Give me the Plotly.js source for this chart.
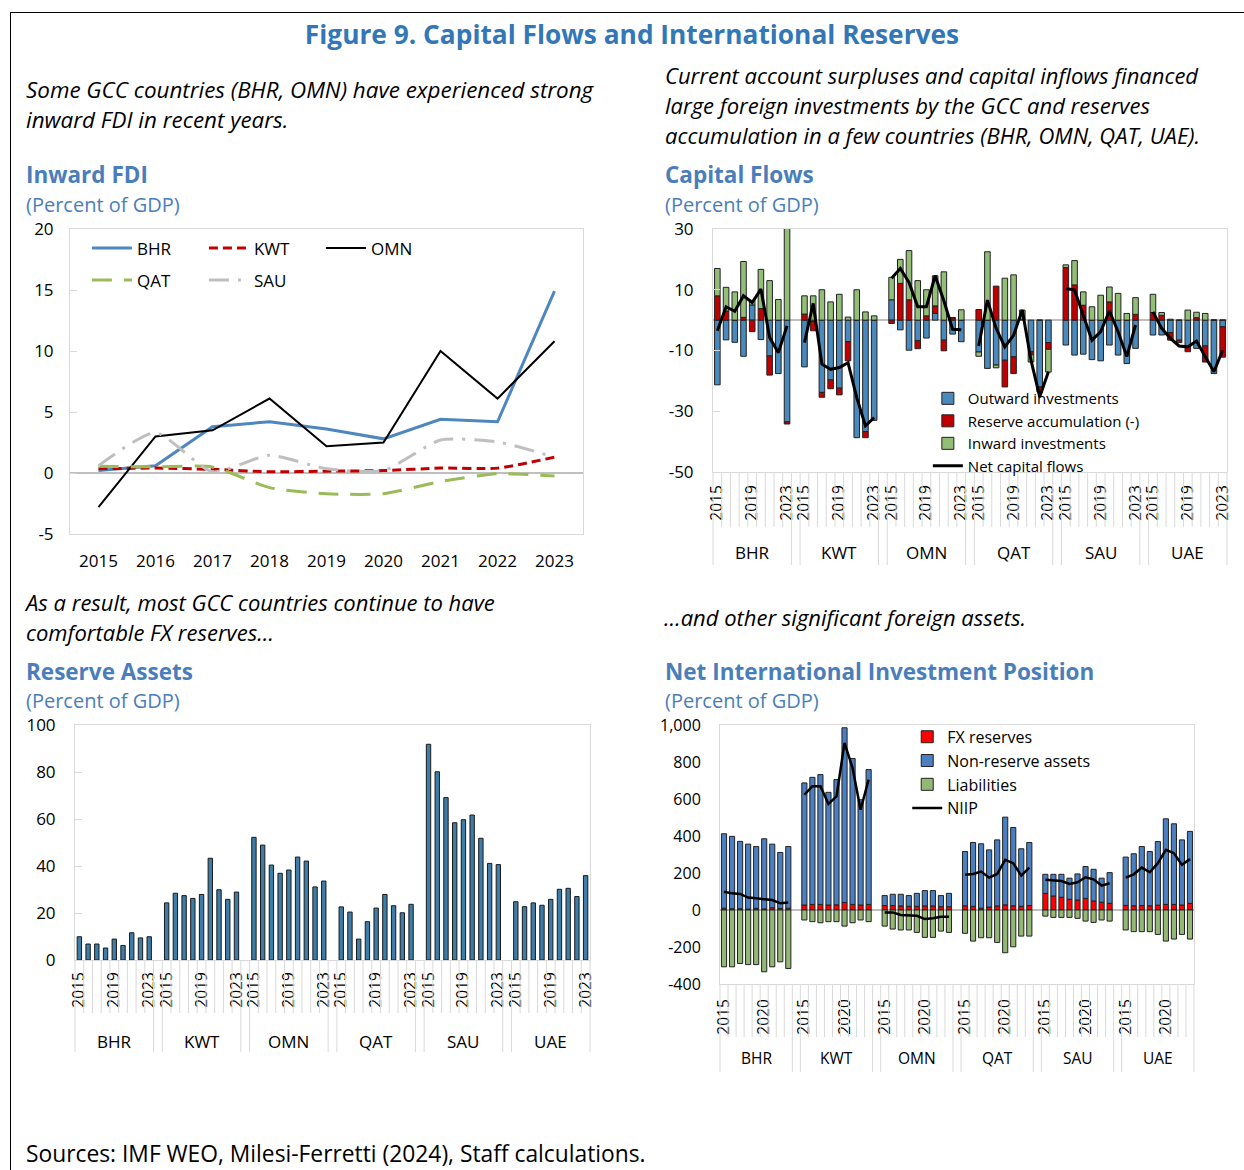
<!DOCTYPE html>
<html><head><meta charset="utf-8">
<script src="https://cdn.plot.ly/plotly-3.0.1.min.js"></script>
<style>
body{margin:0;background:#fff;width:1244px;height:1170px;overflow:hidden;position:relative;font-family:"Open Sans",sans-serif;}
.t{position:absolute;white-space:nowrap;}
.cap{font-style:italic;font-size:22px;line-height:30px;color:#000;}
.pt{font-weight:700;font-size:22.5px;color:#4A7EBB;line-height:30px;}
.ps{font-size:20px;color:#4A7EBB;line-height:30px;}
.chart{position:absolute;}
#frame{position:absolute;left:10px;top:12px;width:1240px;height:1170px;border-left:1px solid #000;border-top:1px solid #000;}
#title{position:absolute;left:0;width:1264px;top:17px;line-height:34px;text-align:center;font-weight:700;font-size:26.3px;color:#3277B8;}
</style></head><body>
<div id="frame"></div>
<div id="title">Figure 9. Capital Flows and International Reserves</div>
<div class="t cap" style="left:26px;top:75px;font-size:22.4px;">Some GCC countries (BHR, OMN) have experienced strong<br>inward FDI in recent years.</div>
<div class="t cap" style="left:665px;top:60px;">Current account surpluses and capital inflows financed<br>large foreign investments by the GCC and reserves<br>accumulation in a few countries (BHR, OMN, QAT, UAE).</div>
<div class="t pt" style="left:26px;top:160px;">Inward FDI</div>
<div class="t ps" style="left:26px;top:190px;">(Percent of GDP)</div>
<div class="t pt" style="left:665px;top:160px;">Capital Flows</div>
<div class="t ps" style="left:665px;top:190px;">(Percent of GDP)</div>
<div class="t cap" style="left:26px;top:587px;">As a result, most GCC countries continue to have<br>comfortable FX reserves…</div>
<div class="t cap" style="left:664px;top:602px;">…and other significant foreign assets.</div>
<div class="t pt" style="left:26px;top:657px;">Reserve Assets</div>
<div class="t ps" style="left:26px;top:686px;">(Percent of GDP)</div>
<div class="t pt" style="left:665px;top:657px;">Net International Investment Position</div>
<div class="t ps" style="left:665px;top:686px;">(Percent of GDP)</div>
<div class="t" style="left:26px;top:1140px;font-size:22.8px;line-height:28px;color:#000;">Sources: IMF WEO, Milesi-Ferretti (2024), Staff calculations.</div>

<div id="fdi" class="chart" style="left:0px;top:200px;width:600px;height:390px;"></div>
<div id="cf" class="chart" style="left:640px;top:200px;width:604px;height:380px;"></div>
<div id="ra" class="chart" style="left:0px;top:700px;width:600px;height:370px;"></div>
<div id="niip" class="chart" style="left:640px;top:700px;width:604px;height:380px;"></div>

<script>
// ---------------- DATA ----------------
const countries = ["BHR","KWT","OMN","QAT","SAU","UAE"];
const years = ["2015","2016","2017","2018","2019","2020","2021","2022","2023"];

// Inward FDI (percent of GDP)
const fdiBHR = [0.2, 0.6, 3.8, 4.2, 3.6, 2.8, 4.4, 4.2, 14.9];
const fdiKWT = [0.35, 0.4, 0.3, 0.1, 0.15, 0.2, 0.4, 0.4, 1.3];
const fdiOMN = [-2.8, 3.0, 3.5, 6.1, 2.2, 2.5, 10.0, 6.1, 10.8];
const fdiQAT = [0.55, 0.5, 0.5, -1.2, -1.7, -1.7, -0.7, -0.05, -0.25];
const fdiSAU = [0.6, 3.3, 0.1, 1.45, 0.35, 0.2, 2.7, 2.55, 1.3];
const fdiTickVals = [-5, 0, 5, 10, 15, 20];
const fdiTickText = ["-5", "0", "5", "10", "15", "20"];

// Capital flows (percent of GDP), one row per country (BHR..UAE)
const cfOutward = [
  [-21.3, -6.5, -7.3, -11.9, 5.0, -6.4, -11.8, -17.6, -33.5],
  [-15.4, -0.5, -23.8, -19.7, -22.4, -7.1, -38.7, -36.7, -33.0],
  [6.7, -3.2, -9.9, -6.8, -5.9, 2.2, -6.6, -4.6, -7.1],
  [-10.5, -15.9, -14.8, -13.2, -12.1, 0.3, -10.4, -22.0, -7.4],
  [-8.2, -11.5, -11.2, -13.0, -13.4, -8.2, -11.5, -14.3, -9.3],
  [-4.9, -4.9, -4.1, -6.6, -8.8, -9.3, -8.5, -17.6, -2.2]
];
const cfReserve = [
  [8.0, 3.0, 0, 0.9, -3.8, 3.8, -6.3, 0, -0.7],
  [2.0, -3.0, -1.6, -2.9, -2.2, -6.3, 0, -2.0, 0],
  [-1.1, 12.1, 6.7, -2.6, 1.4, 2.5, -3.5, 0.8, 0],
  [3.5, 0, 11.2, -8.8, -5.5, 0, -1.0, -1.6, -2.2],
  [17.3, 11.6, 4.9, 0, 0, 6.0, 0, 0, 1.9],
  [2.5, 1.6, -2.5, -0.8, -1.6, 0.8, -5.3, 0, -10.0]
];
const cfInward = [
  [9.0, 7.8, 9.3, 18.4, 1.5, 12.9, 13.0, 6.8, 32.3],
  [6.0, 8.0, 10.0, 6.0, 8.5, 1.0, 10.0, 2.7, 1.4],
  [7.4, 7.9, 16.2, 13.0, 8.6, 9.9, 15.9, 0, 3.4],
  [-1.4, 22.5, -0.9, 13.8, 14.9, 3.0, -2.4, 0, -7.5],
  [0.9, 8.0, 4.4, 4.4, 8.2, 4.9, 8.8, 2.2, 5.5],
  [6.0, 0.9, 0.3, 0, 3.3, 1.8, 2.2, 0, 0]
];
const cfNet = [
  [-3.5, 4.4, 2.9, 8.0, 5.8, 10.2, -5.7, -10.7, -1.9],
  [-7.4, 5.5, -14.5, -16.2, -15.6, -14.0, -25.5, -34.8, -32.1],
  [13.8, 17.0, 12.4, 4.4, 4.4, 14.6, 6.4, -3.0, -3.2],
  [-8.5, 6.6, -2.7, -8.8, -5.0, 3.3, -13.2, -25.3, -17.0],
  [10.4, 9.9, 1.6, -6.6, -3.8, 3.0, -3.8, -12.0, -1.6],
  [2.7, -2.7, -6.0, -8.5, -8.8, -6.9, -12.0, -17.0, -9.9]
];
const cfTickVals = [-50, -30, -10, 10, 30];
const cfTickText = ["-50", "-30", "-10", "10", "30"];

// Reserve assets (percent of GDP)
const reserveAssets = [
  [9.9, 6.8, 6.8, 5.1, 8.9, 6.2, 11.6, 9.4, 9.9],
  [24.3, 28.4, 27.4, 26.2, 27.9, 43.3, 29.9, 25.8, 28.9],
  [52.2, 48.9, 40.4, 36.9, 38.3, 43.8, 42.1, 31.1, 33.6],
  [22.6, 20.4, 8.9, 16.3, 22.1, 27.9, 23.1, 20.1, 23.7],
  [91.8, 80.1, 69.1, 58.4, 59.7, 61.7, 51.8, 41.1, 40.6],
  [24.8, 22.7, 24.3, 23.3, 25.8, 30.1, 30.5, 27.0, 35.9]
];
const raTickVals = [0, 20, 40, 60, 80, 100];
const raTickText = ["0", "20", "40", "60", "80", "100"];

// NIIP (percent of GDP)
const niipFX = [
  [10, 7, 7, 5, 9, 6, 12, 9, 10],
  [27, 30, 30, 27, 28, 41, 30, 27, 30],
  [24, 24, 22, 20, 20, 22, 22, 18, 18],
  [23, 20, 10, 16, 22, 28, 23, 20, 24],
  [90, 76, 69, 58, 54, 63, 49, 42, 36],
  [25, 23, 24, 23, 26, 30, 30, 27, 36]
];
const niipNonReserve = [
  [402, 391, 364, 351, 334, 379, 344, 302, 333],
  [660, 687, 702, 609, 677, 944, 789, 569, 729],
  [54, 61, 63, 58, 70, 83, 83, 60, 72],
  [293, 345, 348, 309, 357, 474, 423, 311, 341],
  [103, 117, 124, 114, 141, 172, 171, 130, 166],
  [261, 281, 319, 293, 344, 463, 436, 352, 389]
];
const niipLiabilities = [
  [-307, -307, -289, -295, -295, -334, -307, -280, -316],
  [-54, -63, -69, -63, -63, -87, -69, -54, -63],
  [-87, -103, -108, -108, -121, -148, -148, -114, -121],
  [-126, -168, -150, -150, -175, -231, -199, -141, -141],
  [-33, -40, -40, -40, -45, -60, -67, -54, -60],
  [-108, -117, -117, -117, -132, -168, -157, -132, -157]
];
const niipNet = [
  [99, 90, 87, 67, 63, 60, 54, 36, 40],
  [623, 669, 669, 573, 614, 903, 768, 542, 705],
  [-13, -13, -27, -31, -31, -49, -45, -36, -36],
  [190, 195, 208, 175, 195, 271, 253, 186, 229],
  [163, 159, 157, 141, 150, 177, 166, 132, 145],
  [175, 193, 229, 204, 253, 325, 307, 244, 275]
];
const niipTickVals = [-400, -200, 0, 200, 400, 600, 800, 1000];
const niipTickText = ["-400", "-200", "0", "200", "400", "600", "800", "1,000"];

// ---------------- HELPERS ----------------
const FONT = "Open Sans, sans-serif";
const FRAME = "#D9D9D9";
const SLOT = 10; // 9 years + one empty slot between countries

function flatX() {
  const xs = [];
  countries.forEach((c, g) => years.forEach((y, i) => xs.push(g * SLOT + i)));
  return xs;
}
function flatY(rows) { return [].concat(...rows); }
function lineXY(rows) {
  const xs = [], ys = [];
  rows.forEach((r, g) => {
    r.forEach((v, i) => { xs.push(g * SLOT + i); ys.push(v); });
    xs.push(g * SLOT + years.length); ys.push(null);
  });
  return {x: xs, y: ys};
}
function yearTicks(idx) {
  const v = [], t = [];
  countries.forEach((c, g) => idx.forEach(i => { v.push(g * SLOT + i); t.push(years[i]); }));
  return {v, t};
}
function catShapes(shortEnd, longEnd) {
  const s = [];
  const last = countries.length * SLOT - 1.5;
  countries.forEach((c, g) => {
    for (let k = 0; k <= years.length; k++) {
      const x = g * SLOT - 0.5 + k;
      const isLong = (k === 0 || k === years.length);
      let sh = {type: 'line', xref: 'x', yref: 'paper', x0: x, x1: x, y0: 0, y1: isLong ? longEnd : shortEnd,
                line: {color: FRAME, width: 1}};
      if (g === 0 && k === 0) { sh.xref = 'paper'; sh.x0 = 0; sh.x1 = 0; }
      if (x === last) { sh.xref = 'paper'; sh.x0 = 1; sh.x1 = 1; }
      s.push(sh);
    }
  });
  return s;
}
function countryAnn(yPaper, size) {
  return countries.map((c, g) => ({
    text: c, xref: 'x', yref: 'paper', x: g * SLOT + 4, y: yPaper, yanchor: 'middle', xanchor: 'center',
    showarrow: false, font: {family: FONT, size: size, color: '#000'}
  }));
}
const cfg = {displayModeBar: false, staticPlot: true};
const catRange = [-0.5, countries.length * SLOT - 1.5];

// ---------------- FDI ----------------
(function () {
  const mk = (y, name, color, width, dash, legend, shape) => ({
    type: 'scatter', mode: 'lines', x: years, y: y, name: name, legend: legend,
    line: {color: color, width: width, dash: dash, shape: shape || 'linear', smoothing: 0.6}
  });
  const data = [
    mk(fdiBHR, 'BHR', '#4E86BE', 3, 'solid', 'legend'),
    mk(fdiKWT, 'KWT', '#C00000', 3, '9px,5px', 'legend', 'spline'),
    mk(fdiOMN, 'OMN', '#000000', 2, 'solid', 'legend'),
    mk(fdiQAT, 'QAT', '#9BBB59', 3, '20px,12px', 'legend2', 'spline'),
    mk(fdiSAU, 'SAU', '#BFBFBF', 3, '20px,9px,3px,9px', 'legend2', 'spline')
  ];
  const legendBase = {orientation: 'h', x: 0.033, xanchor: 'left', yanchor: 'top', entrywidth: 62, itemwidth: 40,
    bgcolor: 'rgba(0,0,0,0)', font: {family: FONT, size: 17, color: '#000'}};
  const layout = {
    width: 600, height: 390, margin: {l: 70, r: 17, t: 29, b: 56},
    paper_bgcolor: 'rgba(0,0,0,0)', plot_bgcolor: '#fff',
    font: {family: FONT, size: 17, color: '#000'}, showlegend: true,
    legend: Object.assign({}, legendBase, {y: 0.995}),
    legend2: Object.assign({}, legendBase, {y: 0.89}),
    xaxis: {type: 'category', range: [-0.5, 8.5], showline: true, mirror: true, linecolor: FRAME,
      showgrid: false, zeroline: false, ticks: '', ticklabelstandoff: 12, tickfont: {size: 17}},
    yaxis: {range: [-5, 20], tickvals: fdiTickVals, ticktext: fdiTickText, showline: true, mirror: true,
      linecolor: FRAME, showgrid: false, zeroline: true, zerolinecolor: '#BFBFBF', zerolinewidth: 1.5,
      ticks: 'inside', ticklen: 7, tickcolor: FRAME, ticklabelstandoff: 12, tickfont: {size: 17}}
  };
  Plotly.newPlot('fdi', data, layout, cfg);
})();

// ---------------- CAPITAL FLOWS ----------------
(function () {
  const xs = flatX();
  const net = lineXY(cfNet);
  const bar = (rows, name, color) => ({type: 'bar', x: xs, y: flatY(rows), name: name,
    marker: {color: color, line: {color: '#222', width: 1}}});
  const data = [
    bar(cfOutward, 'Outward investments', '#4A89BC'),
    bar(cfReserve, 'Reserve accumulation (-)', '#C00000'),
    bar(cfInward, 'Inward investments', '#93BE78'),
    {type: 'scatter', mode: 'lines', x: net.x, y: net.y, name: 'Net capital flows', connectgaps: false,
      line: {color: '#000', width: 3}}
  ];
  const yt = yearTicks([0, 4, 8]);
  const layout = {
    width: 604, height: 380, margin: {l: 73, r: 17, t: 29, b: 108},
    paper_bgcolor: 'rgba(0,0,0,0)', plot_bgcolor: '#fff', barmode: 'relative', bargap: 0.36,
    font: {family: FONT, size: 16, color: '#000'}, showlegend: true,
    legend: {x: 0.418, xanchor: 'left', y: 0.37, yanchor: 'top', bgcolor: 'rgba(0,0,0,0)',
      font: {family: FONT, size: 15, color: '#000'}, traceorder: 'normal'},
    xaxis: {range: catRange, tickvals: yt.v, ticktext: yt.t, tickangle: -90, showline: true, mirror: true,
      linecolor: FRAME, showgrid: false, zeroline: false, ticks: '', ticklabelstandoff: 6, tickfont: {size: 15.5}},
    yaxis: {range: [-50, 30], tickvals: cfTickVals, ticktext: cfTickText, showline: true, mirror: true,
      linecolor: FRAME, showgrid: false, zeroline: true, zerolinecolor: '#BFBFBF', zerolinewidth: 1.5,
      ticks: 'inside', ticklen: 7, tickcolor: FRAME, ticklabelstandoff: 15, tickfont: {size: 17}},
    shapes: catShapes(-0.226, -0.383),
    annotations: countryAnn(-0.333, 17)
  };
  Plotly.newPlot('cf', data, layout, cfg);
})();

// ---------------- RESERVE ASSETS ----------------
(function () {
  const yt = yearTicks([0, 4, 8]);
  const data = [{type: 'bar', x: flatX(), y: flatY(reserveAssets), name: 'Reserve assets',
    marker: {color: '#3D7DA8', line: {color: '#1a1a1a', width: 1}}}];
  const layout = {
    width: 600, height: 370, margin: {l: 75, r: 10, t: 25, b: 110},
    paper_bgcolor: 'rgba(0,0,0,0)', plot_bgcolor: '#fff', bargap: 0.5, showlegend: false,
    font: {family: FONT, size: 16, color: '#000'},
    xaxis: {range: catRange, tickvals: yt.v, ticktext: yt.t, tickangle: -90, showline: true, mirror: true,
      linecolor: FRAME, showgrid: false, zeroline: false, ticks: '', ticklabelstandoff: 5, tickfont: {size: 15.5}},
    yaxis: {range: [0, 100], tickvals: raTickVals, ticktext: raTickText, showline: true, mirror: true,
      linecolor: FRAME, showgrid: false, zeroline: false,
      ticks: 'inside', ticklen: 7, tickcolor: FRAME, ticklabelstandoff: 15, tickfont: {size: 17}},
    shapes: catShapes(-0.2255, -0.392),
    annotations: countryAnn(-0.345, 17)
  };
  Plotly.newPlot('ra', data, layout, cfg);
})();

// ---------------- NIIP ----------------
(function () {
  const xs = flatX();
  const net = lineXY(niipNet);
  const bar = (rows, name, color) => ({type: 'bar', x: xs, y: flatY(rows), name: name,
    marker: {color: color, line: {color: '#222', width: 1}}});
  const data = [
    bar(niipFX, 'FX reserves', '#FF0000'),
    bar(niipNonReserve, 'Non-reserve assets', '#4A7FC1'),
    bar(niipLiabilities, 'Liabilities', '#93B874'),
    {type: 'scatter', mode: 'lines', x: net.x, y: net.y, name: 'NIIP', connectgaps: false,
      line: {color: '#000', width: 2.5}}
  ];
  const yt = yearTicks([0, 5]);
  const layout = {
    width: 604, height: 380, margin: {l: 80, r: 50, t: 25, b: 96},
    paper_bgcolor: 'rgba(0,0,0,0)', plot_bgcolor: '#fff', barmode: 'relative', bargap: 0.36,
    font: {family: FONT, size: 16, color: '#000'}, showlegend: true,
    legend: {x: 0.395, xanchor: 'left', y: 1.02, yanchor: 'top', bgcolor: 'rgba(0,0,0,0)',
      font: {family: FONT, size: 16, color: '#000'}, traceorder: 'normal'},
    xaxis: {range: catRange, tickvals: yt.v, ticktext: yt.t, tickangle: -90, showline: true, mirror: true,
      linecolor: FRAME, showgrid: false, zeroline: false, ticks: '', ticklabelstandoff: 8, tickfont: {size: 15.5}},
    yaxis: {range: [-400, 1000], tickvals: niipTickVals, ticktext: niipTickText, showline: true, mirror: true,
      linecolor: FRAME, showgrid: false, zeroline: true, zerolinecolor: '#BFBFBF', zerolinewidth: 1.5,
      ticks: '', ticklabelstandoff: 15, tickfont: {size: 16}},
    shapes: catShapes(-0.205, -0.34),
    annotations: countryAnn(-0.286, 15.5)
  };
  Plotly.newPlot('niip', data, layout, cfg);
})();
</script>
</body></html>
